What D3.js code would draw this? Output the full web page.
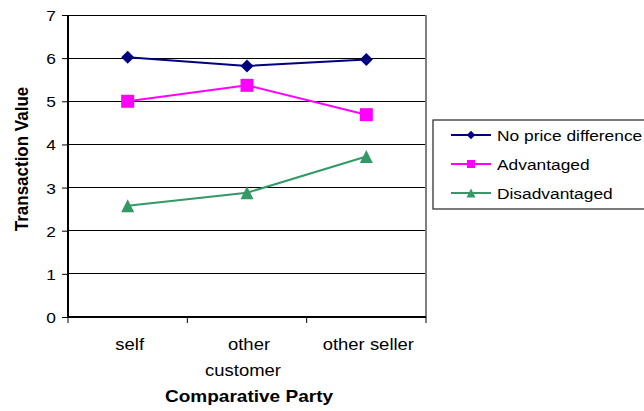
<!DOCTYPE html>
<html>
<head>
<meta charset="utf-8">
<script src="https://cdn.jsdelivr.net/npm/d3@7"></script>
<style>
  html, body { margin: 0; padding: 0; background: #fff; }
  svg { display: block; font-family: Arial, "Liberation Sans", sans-serif; }
</style>
</head>
<body>
<svg id="chart" width="644" height="411"></svg>
<script>
// Comparative party categories (multi-line labels)
const categories = ["self", "other customer", "other seller"];
const categoryLines = [["self"], ["other", "customer"], ["other seller"]];
const seriesNames = ["No price difference", "Advantaged", "Disadvantaged"];
const noPriceDifference = [6.02, 5.82, 5.97];
const advantaged = [5.0, 5.37, 4.69];
const disadvantaged = [2.58, 2.88, 3.72];
const yTicks = [0, 1, 2, 3, 4, 5, 6, 7];

const seriesValues = [noPriceDifference, advantaged, disadvantaged];
const colors = ["#000080", "#ff00ff", "#339966"];

// text is drawn slightly widened horizontally
const SX = 1.12;

// marker shapes sized by bounding box (size = box width in px)
const diamond = { draw(ctx, s) { const r = s / 2; ctx.moveTo(0, -r); ctx.lineTo(r, 0); ctx.lineTo(0, r); ctx.lineTo(-r, 0); ctx.closePath(); } };
const square = { draw(ctx, s) { const r = s / 2; ctx.rect(-r, -r, s, s); } };
const triangle = { draw(ctx, s) { const r = s / 2; ctx.moveTo(0, -r); ctx.lineTo(r, r); ctx.lineTo(-r, r); ctx.closePath(); } };
const symbols = [diamond, square, triangle];

const svg = d3.select("#chart");
const plotLeft = 68, plotRight = 426, plotTop = 15, plotBottom = 317;

const x = d3.scalePoint().domain(categories).range([plotLeft, plotRight]).padding(0.5);
const xBand = d3.scaleBand().domain(categories).range([plotLeft, plotRight]);
const y = d3.scaleLinear().domain([0, 7]).range([plotBottom, plotTop]);

function addText(parent, tx, ty, str, size, opts = {}) {
  return parent.append("text")
    .attr("transform", `translate(${tx},${ty}) scale(${SX},1)${opts.rotate ? " rotate(" + opts.rotate + ")" : ""}`)
    .attr("text-anchor", opts.anchor || "start")
    .attr("font-size", size)
    .attr("font-weight", opts.bold ? "bold" : "normal")
    .attr("fill", "#000")
    .text(str);
}

// gridlines
svg.append("g")
  .selectAll("line")
  .data(yTicks.filter(t => t > 0))
  .join("line")
  .attr("x1", plotLeft).attr("x2", plotRight)
  .attr("y1", d => y(d)).attr("y2", d => y(d))
  .attr("stroke", "#000").attr("stroke-width", 1)
  .attr("shape-rendering", "crispEdges");

// right border of plot area
svg.append("line")
  .attr("x1", plotRight).attr("x2", plotRight)
  .attr("y1", plotTop).attr("y2", plotBottom)
  .attr("stroke", "#808080").attr("stroke-width", 2);

// y axis
const yAxis = svg.append("g")
  .attr("transform", `translate(${plotLeft},0)`)
  .call(d3.axisLeft(y).tickValues(yTicks).tickSize(6).tickFormat(d3.format("d")));
yAxis.select(".domain").remove();
yAxis.selectAll(".tick line").attr("stroke", "#000");
yAxis.selectAll(".tick text")
  .attr("x", null).attr("dy", null)
  .attr("transform", `translate(-12,5.5) scale(${SX},1)`)
  .attr("font-size", 15.5).attr("fill", "#000")
  .attr("font-family", "Arial, 'Liberation Sans', sans-serif");
svg.append("line")
  .attr("x1", plotLeft).attr("x2", plotLeft).attr("y1", plotTop).attr("y2", plotBottom + 1)
  .attr("stroke", "#000").attr("stroke-width", 2);

// x axis with ticks at category boundaries
const boundaries = categories.map(c => xBand(c)).concat([plotRight]);
svg.append("line")
  .attr("x1", plotLeft).attr("x2", plotRight).attr("y1", plotBottom).attr("y2", plotBottom)
  .attr("stroke", "#000").attr("stroke-width", 2);
svg.append("g").selectAll("line").data(boundaries).join("line")
  .attr("x1", d => d).attr("x2", d => d)
  .attr("y1", plotBottom).attr("y2", plotBottom + 6)
  .attr("stroke", "#000").attr("stroke-width", 1);

// category labels
const catG = svg.append("g");
categories.forEach((c, i) => {
  categoryLines[i].forEach((ln, j) => {
    addText(catG, x(c) + (j === 0 ? 2 : -4), 350 + j * 26, ln, 16.5, { anchor: "middle" });
  });
});

// axis titles
addText(svg, 249, 402, "Comparative Party", 17, { anchor: "middle", bold: true });
addText(svg, 28, 159, "Transaction Value", 17, { anchor: "middle", bold: true, rotate: -90 });

// series lines and markers
const line = d3.line().x((d, i) => x(categories[i])).y(d => y(d));
seriesValues.forEach((vals, s) => {
  svg.append("path")
    .datum(vals)
    .attr("d", line)
    .attr("fill", "none")
    .attr("stroke", colors[s])
    .attr("stroke-width", 2);
  svg.append("g").selectAll("path").data(vals).join("path")
    .attr("transform", (d, i) => `translate(${x(categories[i])},${y(d)})`)
    .attr("d", d3.symbol().type(symbols[s]).size(13))
    .attr("fill", colors[s]);
});

// legend
const lg = svg.append("g");
lg.append("rect")
  .attr("x", 433).attr("y", 120).attr("width", 230).attr("height", 89)
  .attr("fill", "#fff").attr("stroke", "#222").attr("stroke-width", 1.2);
const legendMarkerSizes = [8.5, 8, 9];
seriesNames.forEach((name, s) => {
  const cy = 135 + s * 29;
  lg.append("line")
    .attr("x1", 451).attr("x2", 491).attr("y1", cy).attr("y2", cy)
    .attr("stroke", colors[s]).attr("stroke-width", 2);
  lg.append("path")
    .attr("transform", `translate(471,${cy})`)
    .attr("d", d3.symbol().type(symbols[s]).size(legendMarkerSizes[s]))
    .attr("fill", colors[s]);
  addText(lg, 497, cy + 5.5, name, 15.5);
});
</script>
</body>
</html>
